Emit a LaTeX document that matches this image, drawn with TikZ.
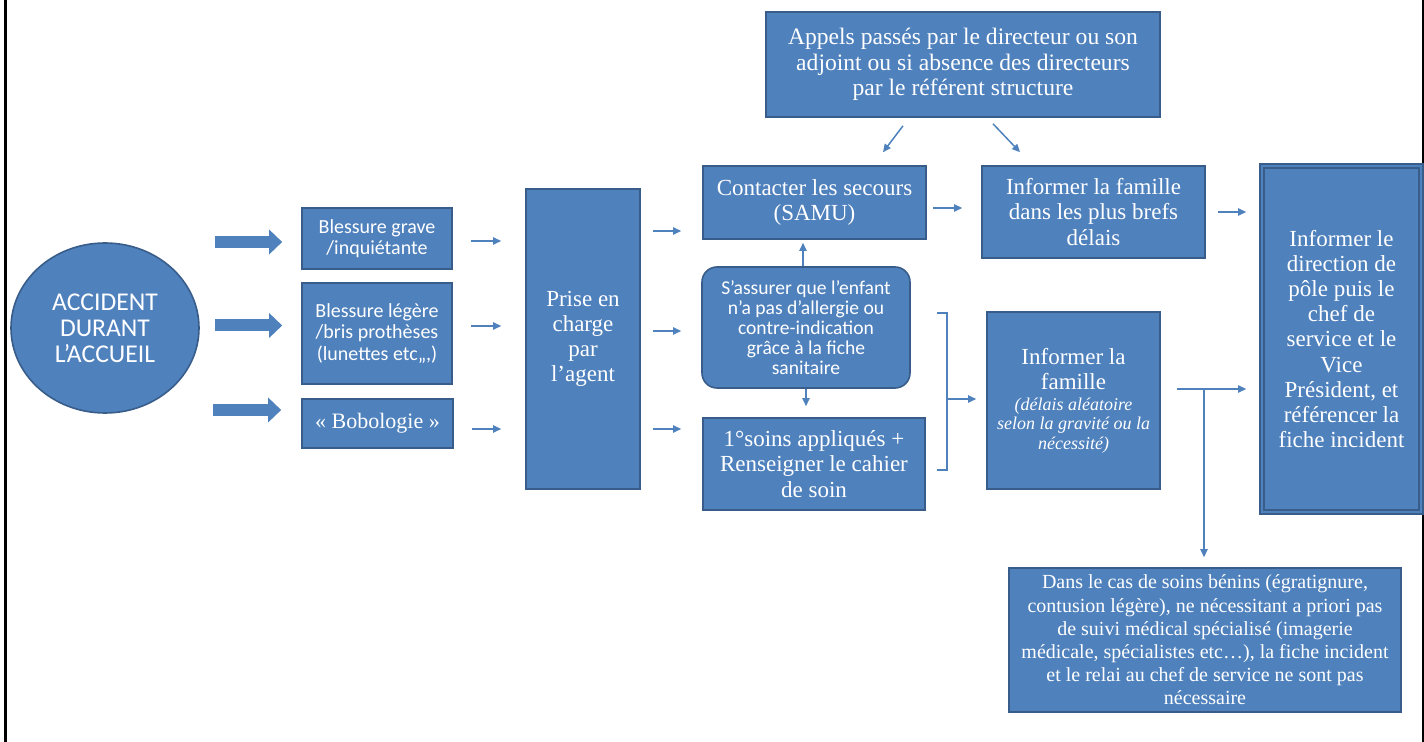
\documentclass[tikz,border=0pt]{standalone}
\usepackage{fontspec}
\setmainfont{Liberation Serif}
\setsansfont{Carlito}
\usepackage{xcolor}
\definecolor{boxblue}{HTML}{4F81BD}
\definecolor{boxline}{HTML}{385D8A}
\usetikzlibrary{arrows.meta}
\usetikzlibrary{shapes.geometric}
\newcommand{\nota}[1]{{\fontsize{9}{9.5}\selectfont\itshape #1}}

\tikzset{
  blok/.style={draw=boxline,line width=0.8pt,fill=boxblue,text=white,align=center,inner sep=0pt},
  txtserif/.style={font=\fontsize{11.5}{12.6}\selectfont},
  txtsans/.style={font=\sffamily\fontsize{10}{10.8}\selectfont},
  flow/.style={draw=boxblue,line width=0.75pt,-{Triangle[length=4pt,width=3.6pt]}},
  bigflow/.style={draw=boxblue,line width=6pt,-{Triangle[length=6.5pt,width=12pt]}},
}

\begin{document}
\begin{tikzpicture}[x=0.5pt,y=-0.5pt]
  \useasboundingbox (0,0) rectangle (1424,742);
  \fill (4,0) rectangle (7,742);
  \fill (1422,0) rectangle (1424,742);

  \node[blok,ellipse,minimum width=94pt,minimum height=85pt,font=\sffamily\fontsize{12.8}{13}\selectfont](acc) at (105,328) {ACCIDENT\\DURANT\\L’ACCUEIL};

  \node[blok,txtsans,minimum width=75pt,minimum height=30.5pt](bg) at (377,238.5) {Blessure grave\\/inquiétante};
  \node[blok,txtsans,minimum width=75pt,minimum height=50.5pt](bl) at (377,333.5) {Blessure légère\\/bris prothèses\\(lunettes etc,,,)};
  \node[blok,font=\fontsize{11}{12}\selectfont,minimum width=75.5pt,minimum height=24.5pt](bobo) at (377.5,423.5) {« Bobologie »};

  \draw[bigflow,shorten <=7.5pt,shorten >=9.5pt] (acc.east |- 0,242) -- (bg.west |- 0,242);
  \draw[bigflow,shorten <=7.5pt,shorten >=9.5pt] (acc.east |- 0,325.5) -- (bl.west |- 0,325.5);
  \draw[bigflow,shorten <=6.5pt,shorten >=10pt] (acc.east |- 0,410) -- (bobo.west |- 0,410);

  \node[blok,txtserif,minimum width=57pt,minimum height=150pt](prise) at (583,339) {Prise en\\charge\\par\\l’agent};

  \draw[flow,shorten <=9pt,shorten >=12pt] (bg.east |- 0,241) -- (prise.west |- 0,241);
  \draw[flow,shorten <=9pt,shorten >=12pt] (bl.east |- 0,326) -- (prise.west |- 0,326);
  \draw[flow,shorten <=9pt,shorten >=12pt] (bobo.east |- 0,429) -- (prise.west |- 0,429);

  \node[blok,txtserif,minimum width=111.5pt,minimum height=36.5pt](samu) at (814.5,202.5) {Contacter les secours\\(SAMU)};
  \node[blok,txtsans,font=\sffamily\fontsize{9.8}{10}\selectfont,rounded corners=7.5pt,minimum width=104pt,minimum height=60.5pt](verif) at (806,327.5) {S’assurer que l’enfant\\n’a pas d’allergie ou\\contre-indication\\grâce à la fiche\\sanitaire};
  \node[blok,txtserif,minimum width=111pt,minimum height=46pt](soins) at (814,464) {1°soins appliqués +\\Renseigner le cahier\\de soin};

  \draw[flow,shorten <=6pt,shorten >=10.5pt] (prise.east |- 0,231) -- (samu.west |- 0,231);
  \draw[flow,shorten <=6pt,shorten >=10pt] (prise.east |- 0,331) -- (verif.west |- 0,331);
  \draw[flow,shorten <=6pt,shorten >=10.5pt] (prise.east |- 0,429) -- (soins.west |- 0,429);

  \draw[flow,shorten >=1.5pt] (verif.north -| 803,0) -- (samu.south -| 803,0);
  \draw[flow,shorten >=5.5pt] (verif.south) -- (verif.south |- soins.north);

  \node[blok,font=\fontsize{11.8}{12.75}\selectfont,minimum width=197pt,minimum height=52.5pt](appels) at (963,64.5) {Appels passés par le directeur ou son\\adjoint ou si absence des directeurs\\par le référent structure};
  \node[blok,txtserif,minimum width=111.5pt,minimum height=46pt](famA) at (1093.5,212) {Informer la famille\\dans les plus brefs\\délais};

  \draw[flow] ([xshift=-30pt,yshift=-4pt]appels.south) -- ([xshift=34.25pt,yshift=6.5pt]samu.north);
  \draw[flow] ([xshift=15pt,yshift=-3pt]appels.south) -- ([xshift=-36.75pt,yshift=6.5pt]famA.north);
  \draw[flow,shorten <=3pt,shorten >=9.5pt] (samu.east |- 0,208) -- (famA.west |- 0,208);

  \node[blok,txtserif,minimum width=86.5pt,minimum height=88.5pt](famB) at (1073.5,400.5) {Informer la\\famille\\[-2pt]\nota{(délais aléatoire}\\[-3pt]\nota{selon la gravité ou la}\\[-3pt]\nota{nécessité)}};

  % accolade
  \coordinate (brk) at (947,399);
  \draw[boxblue,line width=0.75pt] (937,313) -- (947,313) -- (947,470) -- (937,470);
  \draw[flow,shorten >=5pt] (brk) -- (famB.west |- brk);

  \node[blok,txtserif,double=boxblue,double distance=1.2pt,minimum width=79.5pt,minimum height=173pt](dir) at (1341.5,339) {Informer le\\direction de\\pôle puis le\\chef de\\service et le\\Vice\\Président, et\\référencer la\\fiche incident};

  \draw[flow,shorten <=6pt,shorten >=7.5pt] (famA.east |- 0,212) -- (dir.west |- 0,212);
  \draw[flow,shorten <=8pt,shorten >=7.5pt] (famB.east |- 0,389) -- (dir.west |- 0,389);

  \node[blok,font=\fontsize{10}{11.6}\selectfont,minimum width=196pt,minimum height=72pt](benin) at (1205,640) {Dans le cas de soins bénins (égratignure,\\contusion légère), ne nécessitant a priori pas\\de suivi médical spécialisé (imagerie\\médicale, spécialistes etc…), la fiche incident\\et le relai au chef de service ne sont pas\\nécessaire};

  \coordinate (split) at (1204,389);
  \draw[flow,shorten >=5pt] (split) -- (benin.north -| split);
\end{tikzpicture}
\end{document}
